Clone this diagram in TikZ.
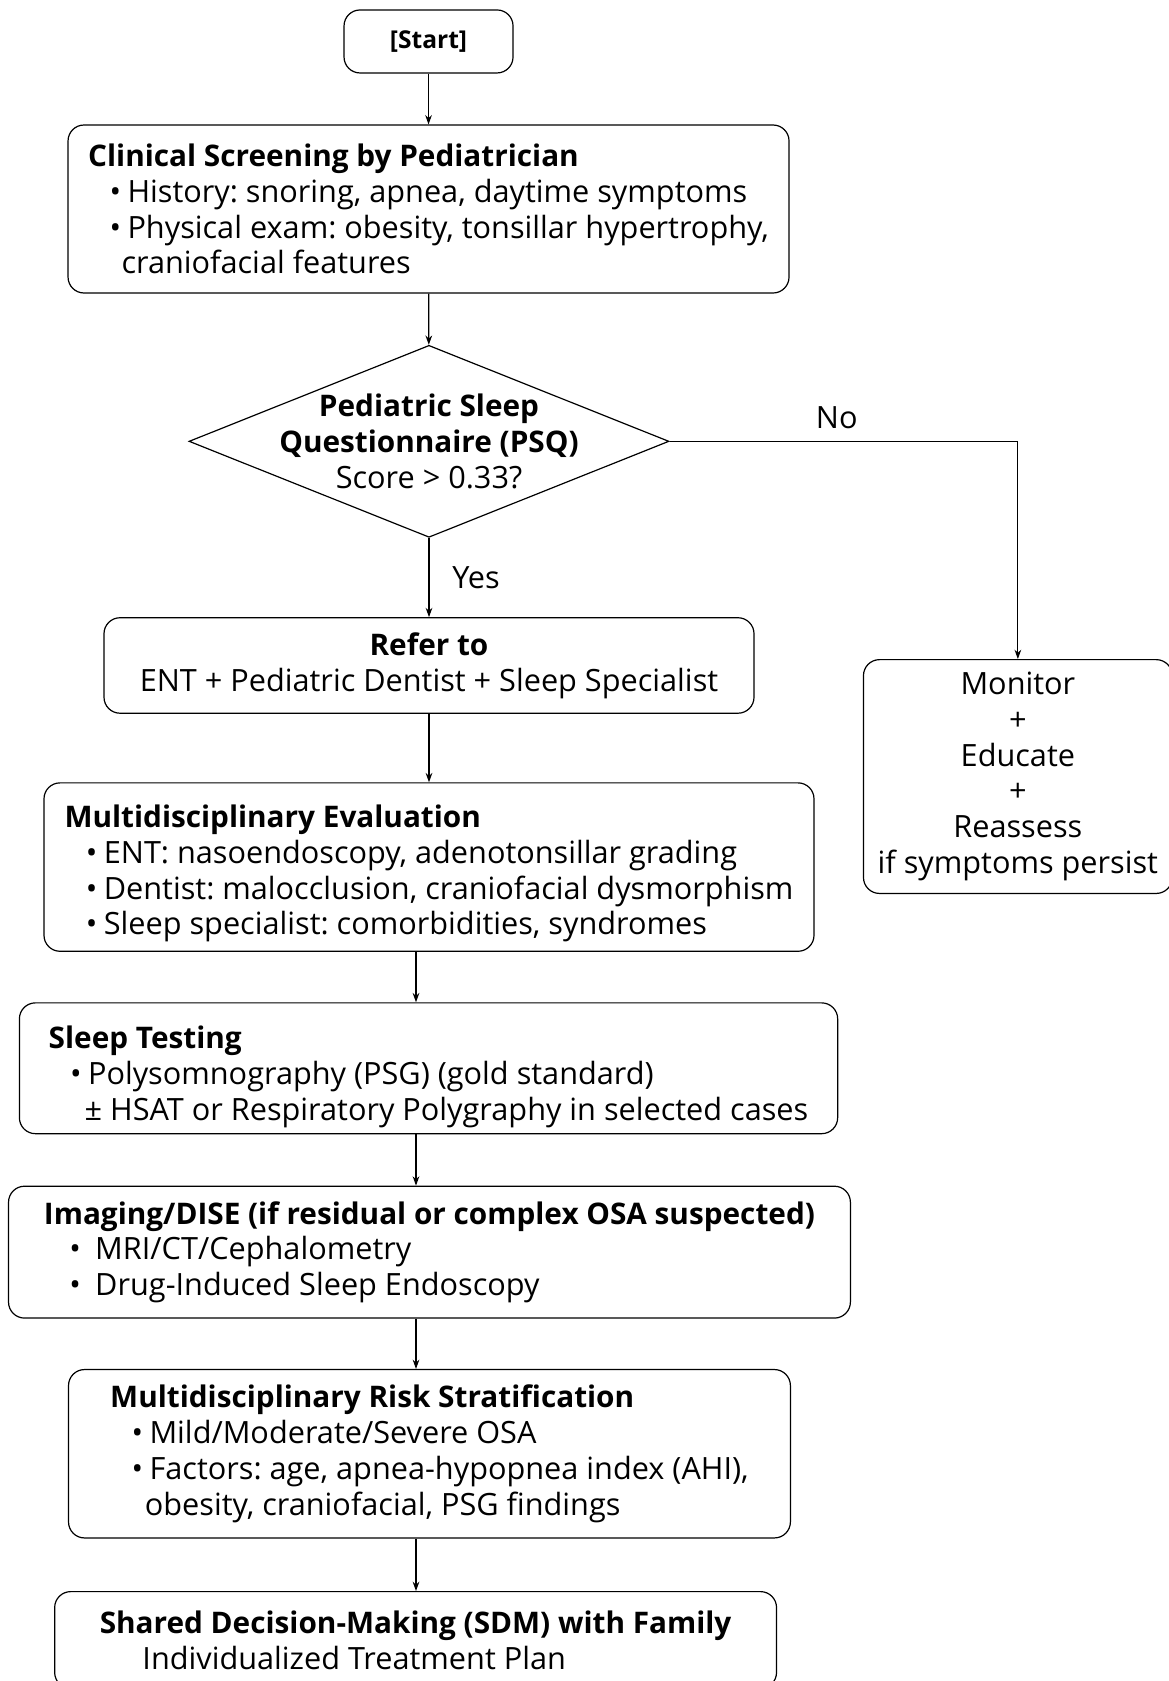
\documentclass[tikz,border=0pt]{standalone}
\usepackage{fontspec}
\setmainfont{Open Sans}[BoldFeatures={Scale=0.97}]
\usetikzlibrary{shapes.geometric,arrows.meta}
\frenchspacing

% bullet with its indent; text starts 13.5pt after the dot
\newcommand{\itemdot}[1][16pt]{\hspace*{#1}\makebox[13.5pt][l]{•}}

\begin{document}
\begin{tikzpicture}[x=1pt, y=-1pt, >={Stealth[length=7pt,width=5pt]},
  every node/.style={font=\fontsize{23}{26.8}\selectfont},
  box/.style={draw, rounded corners=12pt, line width=0.9pt, align=left, inner sep=0pt},
  cbox/.style={box, align=center},
  decision/.style={draw, diamond, line width=0.9pt, inner sep=0pt},
  line/.style={->, line width=0.9pt}]
\useasboundingbox (0,0) rectangle (876.75,1260.75);
\clip (0,0) rectangle (876.75,1260.75);

\node[cbox, minimum width=126.75pt, minimum height=47.25pt, font=\fontsize{19}{22}\selectfont\bfseries] (start) at (321.4, 31.1) {[Start]};
\node[box, minimum width=540.75pt, minimum height=126pt] (screen) at (321.4, 156.75) {\textbf{Clinical Screening by Pediatrician}\\
  \itemdot History: snoring, apnea, daytime symptoms\\
  \itemdot Physical exam: obesity, tonsillar hypertrophy,\\
  \hspace*{25pt}craniofacial features};
\node[decision, minimum width=360pt, minimum height=144pt] (psq) at (321.75, 331) {};
\node[align=center] (psqtext) at (psq) {\textbf{Pediatric Sleep}\\\textbf{Questionnaire (PSQ)}\\Score > 0.33?};
\node[cbox, minimum width=487.5pt, minimum height=71.6pt] (refer) at (321.75, 499.1) {\textbf{Refer to}\\ENT + Pediatric Dentist + Sleep Specialist};
\node[cbox, minimum width=231.6pt, minimum height=175.35pt] (monitor) at (763.4, 582.4) {Monitor\\+\\Educate\\+\\Reassess\\if symptoms persist};
\node[box, minimum width=577.5pt, minimum height=126.3pt] (multi) at (321.75, 650.3) {\rule{0pt}{27pt}\textbf{Multidisciplinary Evaluation}\\
  \itemdot ENT: nasoendoscopy, adenotonsillar grading\\
  \itemdot Dentist: malocclusion, craniofacial dysmorphism\\
  \itemdot Sleep specialist: comorbidities, syndromes};
\node[box, minimum width=613.7pt, minimum height=98.1pt] (sleep) at (321.4, 801.2) {\rule{0pt}{30pt}\textbf{Sleep Testing}\\
  \itemdot Polysomnography (PSG) (gold standard)\\
  \hspace*{27pt}± HSAT or Respiratory Polygraphy in selected cases};
\node[box, minimum width=631.4pt, minimum height=98.9pt] (imaging) at (322.1, 939.1) {\textbf{Imaging/DISE (if residual or complex OSA suspected)}\\
  \itemdot[19pt] MRI/CT/Cephalometry\\
  \itemdot[19pt] Drug-Induced Sleep Endoscopy};
\node[box, minimum width=541.4pt, minimum height=126.3pt] (risk) at (322.1, 1090.3) {\textbf{Multidisciplinary Risk Stratification}\\
  \itemdot Mild/Moderate/Severe OSA\\
  \itemdot Factors: age, apnea-hypopnea index (AHI),\\
  \hspace*{26pt}obesity, craniofacial, PSG findings};
\node[box, minimum width=541.4pt, minimum height=72.6pt] (sdm) at (311.7, 1230) {\textbf{Shared Decision-Making (SDM) with Family}\\
  \hspace*{32pt}Individualized Treatment Plan};

\coordinate (col) at (312, 0);
\draw[line] (start) -- (screen);
\draw[line] (screen) -- (psq);
\draw[line] (psq) -- node[anchor=west, inner sep=0pt, xshift=17pt] (yes) {Yes} (refer);
\draw[line] (psq.east) -| node[pos=0.24, anchor=south, inner sep=0pt, yshift=8.6pt] (no) {No} (monitor.north);
\draw[line] (refer) -- (multi);
\draw[line] (multi.south -| col) -- (sleep.north -| col);
\draw[line] (sleep.south -| col) -- (imaging.north -| col);
\draw[line] (imaging.south -| col) -- (risk.north -| col);
\draw[line] (risk.south -| col) -- (sdm.north -| col);
\end{tikzpicture}
\end{document}
